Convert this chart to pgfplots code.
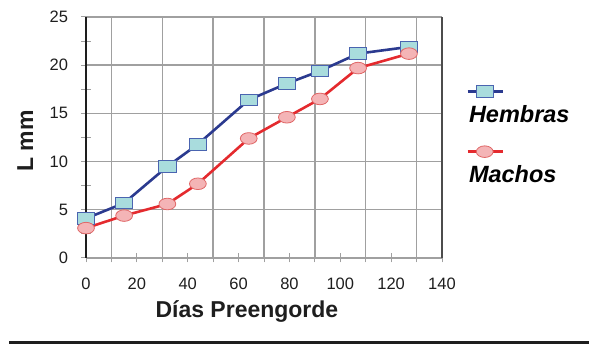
\documentclass[border=0pt]{standalone}
\usepackage{fontspec}
\setmainfont{Liberation Sans}
\usepackage{pgfplots}
\pgfplotsset{compat=1.18}
\definecolor{hblue}{HTML}{2B3A8F}
\definecolor{hfill}{HTML}{A9DCDD}
\definecolor{hedge}{HTML}{4A64B0}
\definecolor{mred}{HTML}{E42A2E}
\definecolor{mfill}{HTML}{F4B4B6}
\definecolor{medge}{HTML}{E06666}
\definecolor{gridgray}{HTML}{A0A0A0}
\definecolor{txt}{HTML}{1E1E1E}
\begin{document}
\begin{tikzpicture}
\useasboundingbox (0,0) rectangle (589pt,344pt);
\begin{axis}[
  at={(86pt,86pt)}, anchor=south west,
  scale only axis, width=356pt, height=241pt,
  xmin=0, xmax=140, ymin=0, ymax=25,
  clip=false,
  xtick={0,20,...,140}, ytick={0,5,...,25},
  minor ytick={2.5,7.5,...,22.5},
  extra x ticks={10,30,...,130}, extra x tick labels={},
  extra x tick style={grid=major},
  ymajorgrids,
  grid style={color=gridgray, line width=1.4pt},
  axis line style={draw=none},
  tick align=center,
  tick pos=left,
  major tick length=9pt, minor tick length=9pt,
  tick style={color=gridgray, line width=1pt},
  /pgf/number format/assume math mode=true,
  ticklabel style={font=\fontsize{16.5}{16.5}\selectfont, text=txt},
  xticklabel style={yshift=-12pt},
  yticklabel style={xshift=-10pt},
  xlabel={Días Preengorde},
  ylabel={L mm},
  label style={font=\fontsize{23}{23}\selectfont\bfseries, text=txt},
  xlabel style={at={(axis description cs:0.452,-0.245)}, anchor=base},
  ylabel style={at={(axis description cs:-0.171,0.485)}, anchor=center},
  legend cell align=left,
  legend style={at={(axis description cs:1.068,0.635)}, anchor=north west,
    draw=none, fill=none, inner sep=0pt, row sep=43pt, column sep=0pt,
    font=\fontsize{23.5}{23.5}\selectfont\bfseries\itshape,
    nodes={inner sep=0pt, text height=17pt, text depth=0pt}},
  legend image code/.code={\path (0,0);
    \draw[overlay,mark repeat=2,mark phase=2,#1] plot coordinates {(0pt,22pt) (17pt,22pt) (35pt,22pt)};},
]
\draw[color=gridgray, line width=1.4pt] (axis cs:0,0) -- (axis cs:140,0);
\draw[color=black!70, line width=1.4pt] (axis cs:140,0) -- (axis cs:140,25);
\draw[color=txt, line width=1.6pt] (axis cs:0,0) -- (axis cs:0,25);
\addplot[color=hblue, line width=2.6pt, mark=square*,
  mark options={fill=hfill, draw=hedge, line width=0.8pt, mark size=5.8pt, xscale=1.5}]
  coordinates {(0,4.1) (15,5.7) (32,9.5) (44,11.8) (64,16.4) (79,18.1) (92,19.4) (107,21.2) (127,21.9)};
\addlegendentry{Hembras}
\addplot[color=mred, line width=2.6pt, mark=*,
  mark options={fill=mfill, draw=medge, line width=0.8pt, mark size=5.8pt, xscale=1.45}]
  coordinates {(0,3.1) (15,4.4) (32,5.6) (44,7.7) (64,12.4) (79,14.6) (92,16.5) (107,19.7) (127,21.2)};
\addlegendentry{Machos}
\end{axis}
\draw[color=txt, line width=3pt] (9pt,1.5pt) -- (589pt,1.5pt);
\end{tikzpicture}
\end{document}
